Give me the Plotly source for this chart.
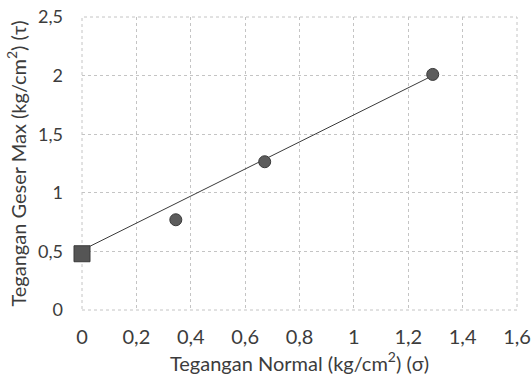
import plotly.graph_objects as go

# Direct shear test results
sigma = [0.345, 0.672, 1.29]      # normal stress (kg/cm2)
tau = [0.77, 1.265, 2.01]         # max shear stress (kg/cm2)

# Cohesion intercept
cohesion_x = [0]
cohesion_y = [0.48]

# Failure envelope
env_x = [0, 1.29]
env_y = [0.51, 2.0]

x_ticks = [0, 0.2, 0.4, 0.6, 0.8, 1.0, 1.2, 1.4, 1.6]
y_ticks = [0, 0.5, 1.0, 1.5, 2.0, 2.5]

FONT = "Lato, 'Open Sans', sans-serif"
GRID = "#c4c4c4"
TEXT = "#3c3c3c"

fig = go.Figure()
fig.add_trace(go.Scatter(
    x=env_x, y=env_y, mode="lines",
    line=dict(color="#3a3a3a", width=1),
    showlegend=False, hoverinfo="skip",
))
fig.add_trace(go.Scatter(
    x=sigma, y=tau, mode="markers",
    marker=dict(symbol="circle", size=12, color="#5c5c5c",
                line=dict(color="#3a3a3a", width=1)),
    showlegend=False,
))
fig.add_trace(go.Scatter(
    x=cohesion_x, y=cohesion_y, mode="markers",
    marker=dict(symbol="square", size=16, color="#555555",
                line=dict(color="#3a3a3a", width=1)),
    showlegend=False, cliponaxis=False,
))

# dotted frame around the plot area
fig.add_shape(type="rect", xref="paper", yref="paper", x0=0, y0=0, x1=1, y1=1,
              line=dict(color=GRID, width=1, dash="dot"), layer="below")

fig.update_layout(
    width=532, height=376,
    margin=dict(l=82, r=15, t=17, b=66),
    paper_bgcolor="white", plot_bgcolor="white",
    separators=",.",
    font=dict(family=FONT, size=20, color=TEXT),
)
fig.update_xaxes(
    range=[0, 1.6], tickvals=x_ticks, automargin=False,
    showgrid=True, gridcolor=GRID, griddash="dot", gridwidth=1,
    zeroline=False, showline=False, ticks="",
    ticklabelstandoff=13, ticklabeloverflow="allow",
    tickfont=dict(size=20),
    title=dict(text="Tegangan Normal (kg/cm<sup>2</sup>) (σ)",
               font=dict(size=20, color=TEXT), standoff=9),
)
fig.update_yaxes(
    range=[0, 2.5], tickvals=y_ticks, automargin=False,
    showgrid=True, gridcolor=GRID, griddash="dot", gridwidth=1,
    zeroline=False, showline=False, ticks="",
    ticklabelstandoff=18, ticklabeloverflow="allow",
    tickfont=dict(size=18),
    title=dict(text="Tegangan Geser Max (kg/cm<sup>2</sup>) (τ)",
               font=dict(size=20, color=TEXT), standoff=6),
)

fig.write_html("out.html")
